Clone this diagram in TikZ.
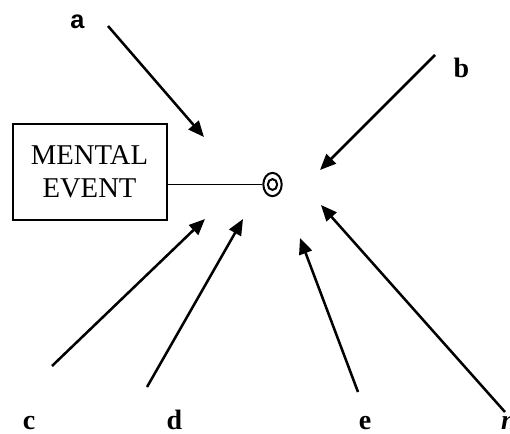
\documentclass[tikz,border=0pt]{standalone}
\usepackage{fontspec}
\setmainfont{Liberation Serif}
\setsansfont{Liberation Sans}
\usetikzlibrary{arrows.meta,shapes.geometric}

\begin{document}
\begin{tikzpicture}[x=0.75pt, y=-0.75pt,
  lbl/.style={font=\fontsize{21}{25}\selectfont\bfseries, anchor=base, inner sep=0pt},
  arr/.style={-{Triangle[length=12pt,width=10pt]}, line width=1.9pt}]
\useasboundingbox (0,0) rectangle (510,433);
\node[draw, line width=1.5pt, minimum width=115.5pt, minimum height=72pt, inner sep=0pt, align=center,
  font=\fontsize{21.5}{25}\selectfont] (ev) at (89.5,172) {MENTAL\\EVENT};
\node[draw, ellipse, line width=1.5pt, minimum width=13.8pt, minimum height=17.5pt, inner sep=0pt] (tg) at (272.5,184.5) {};
\node[draw, ellipse, line width=1.5pt, minimum width=7pt, minimum height=8.2pt, inner sep=0pt] (tgi) at (tg.center) {};
\draw[line width=1.2pt] (ev.east |- tg.west) -- (tg.west);
% labels
\node[lbl, font=\fontsize{19}{23}\selectfont\sffamily\bfseries] (la) at (77.5,28) {a};
\foreach \name/\label/\x/\y in {lb/b/461.5/77,lc/c/29/429,ld/d/174.5/429,le/e/365/429}{
  \node[lbl] (\name) at (\x,\y) {\label};
}
\node[lbl, font=\fontsize{21}{25}\selectfont\bfseries\itshape] (ln) at (509,429) {n};
% arrows towards the target
\foreach \name/\sx/\sy/\tx/\ty in {a/108/26/204/137,b/435/55/320/170,c/52/366/205/219,d/147/387/243/219,e/358/392/300/238,n/505/412/321/205}{
  \coordinate (\name s) at (\sx,\sy);
  \coordinate (\name t) at (\tx,\ty);
  \draw[arr] (\name s)--(\name t);
}
\end{tikzpicture}
\end{document}
